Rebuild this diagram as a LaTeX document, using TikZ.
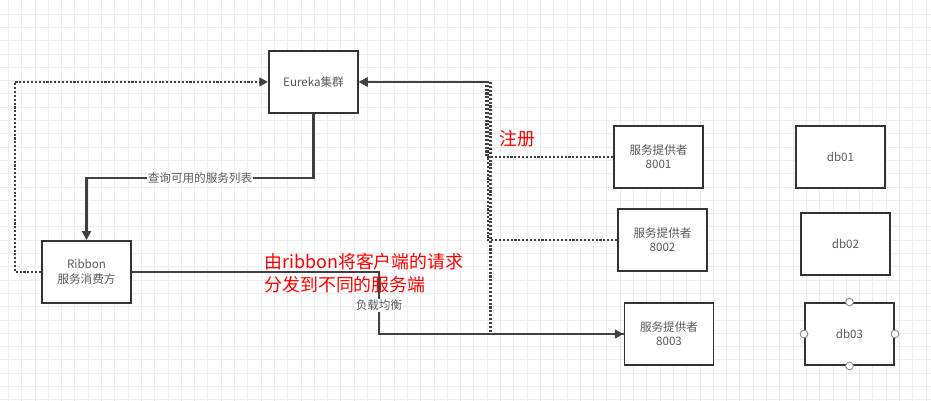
\documentclass[tikz,border=0pt]{standalone}
\usepackage{fontspec}
\setmainfont{Noto Sans CJK SC}
\usetikzlibrary{positioning,arrows.meta}
\pgfdeclarelayer{raster}
\pgfdeclarelayer{lines}
\pgfsetlayers{raster,lines,main}

\begin{document}
\begin{tikzpicture}[x=0.02cm,y=-0.02cm]
%styles
	\tikzset{
	box/.style={draw=black!80, line width=1.1pt, fill=white, minimum width=1.78cm, minimum height=1.24cm, align=center, text=black!65, font=\fontsize{6.6}{8.2}\selectfont},
	flow/.style={draw=black!75, line width=1.2pt, -{Triangle[length=5pt,width=5pt]}},
	reg/.style={draw=black!75, line width=1.2pt, densely dotted, -{Triangle[length=5pt,width=5pt]}},
	lbl/.style={fill=white, inner sep=0.5pt, text=black!65, font=\fontsize{6.6}{8}\selectfont},
	note/.style={text=red, align=left, inner sep=0pt, font=\fontsize{10.2}{13}\selectfont},
	gridln/.style={gray!14, line width=0.4pt},
	handle/.style={draw=black!45, fill=white, line width=0.5pt}}

	\useasboundingbox (0,0) rectangle (931,401);

%grid
	\begin{pgfonlayer}{raster}
	\fill[white] (0,0) rectangle (931,401);
	\foreach \i in {0,...,69}
		\draw[gridln] (8.3+13.3*\i,0) -- ++(0,401);
	\foreach \i in {0,...,29}
		\draw[gridln] (0,14+13.3*\i) -- ++(931,0);
	\end{pgfonlayer}

%nodes
	\node[box] (eureka) at (313.5,82) {Eureka集群};
	\node[box] (ribbon) at (86.5,272) {Ribbon\\服务消费方};
	\node[box] (p1) at (658.5,157) {服务提供者\\8001};
	\node[box] (p2) at (662.5,240) {服务提供者\\8002};
	\node[box] (p3) at (669,334) {服务提供者\\8003};
	\node[box] (db1) at (840.5,157) {db01};
	\node[box] (db2) at (845.5,244) {db02};
	\node[box] (db3) at (849.5,334) {db03};
	\foreach \a in {north,south,east,west}
		\draw[handle] (db3.\a) circle (2.2pt);

%verbindungen
	\begin{pgfonlayer}{lines}
	\draw[reg] (ribbon.west) -- ++(-26,0) |- (eureka.west);
	\draw[flow] (eureka.south) -- ++(0,64) -| node[lbl, pos=0.25] {查询可用的服务列表} (ribbon.north);
	\draw[reg] (p1.west) -- ++(-127,0) |- (eureka.east);
	\draw[reg] (p2.west) -- ++(-129,0) |- (eureka.east);
	\draw[reg] (p3.west) -- ++(-133,0) |- (eureka.east);
	\draw[flow] (ribbon.east) -- ++(247,0) |- node[lbl, pos=0.27] {负载均衡} (p3.west);
	\end{pgfonlayer}

%beschriftung
	\node[note, anchor=north west] (hint) at (264,253) {由ribbon将客户端的请求\\分发到不同的服务端};
	\node[note, anchor=west] (zhuce) at (499,139) {注册};

\end{tikzpicture}
\end{document}
